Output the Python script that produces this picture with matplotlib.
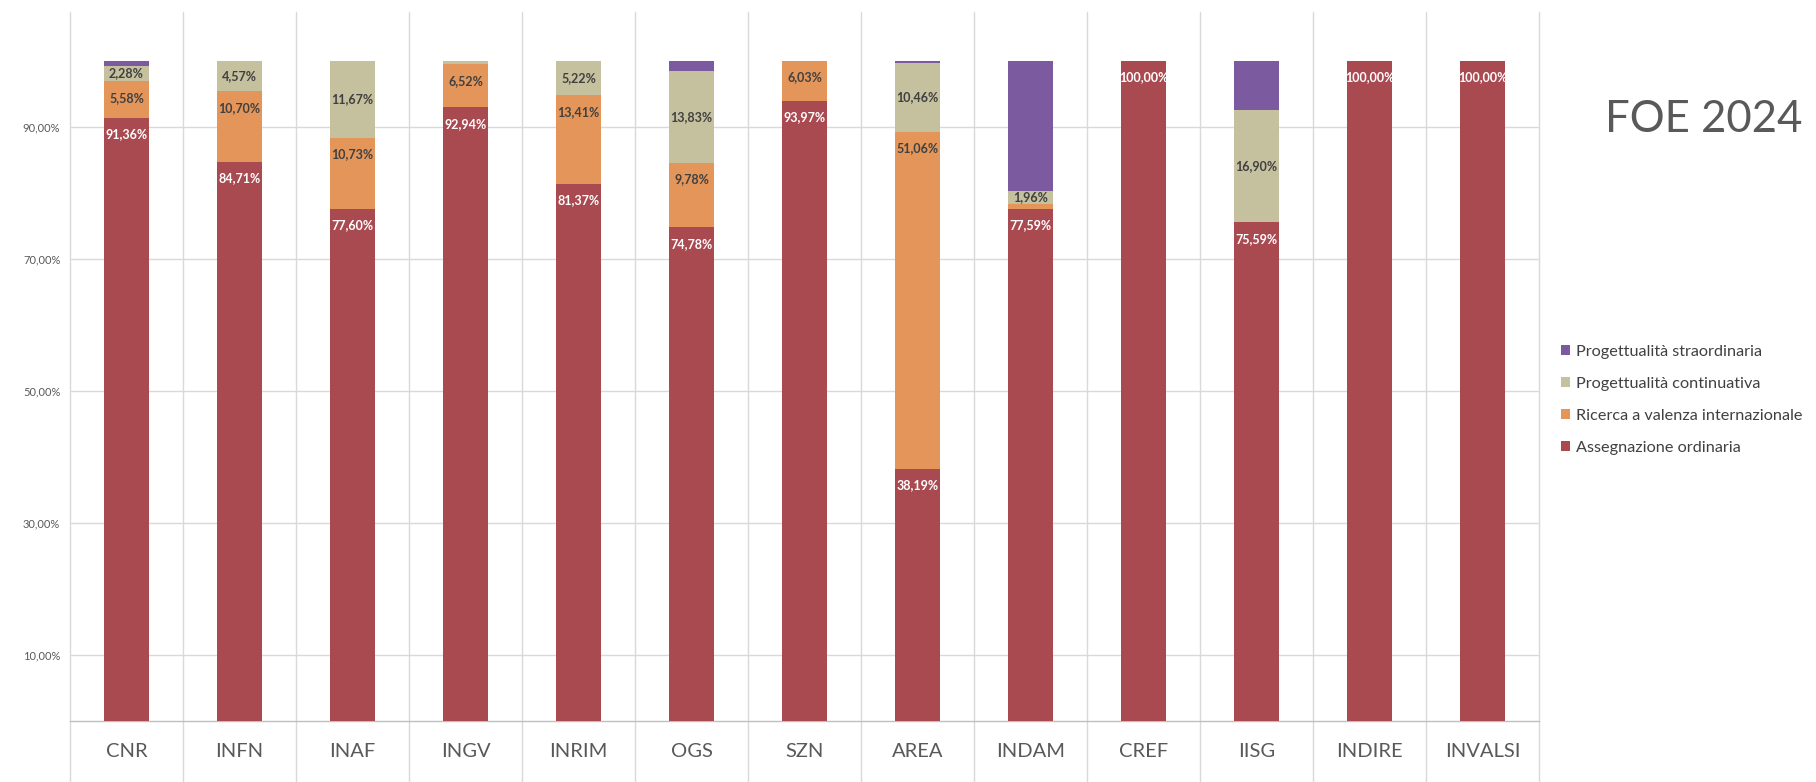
import matplotlib
matplotlib.use('Agg')
import matplotlib.pyplot as plt
import matplotlib.transforms as mtransforms
import numpy as np

categories = ['CNR', 'INFN', 'INAF', 'INGV', 'INRIM', 'OGS', 'SZN', 'AREA',
              'INDAM', 'CREF', 'IISG', 'INDIRE', 'INVALSI']
assegnazione = [91.36, 84.71, 77.60, 92.94, 81.37, 74.78, 93.97, 38.19, 77.59, 100.00, 75.59, 100.00, 100.00]
ricerca = [5.58, 10.70, 10.73, 6.52, 13.41, 9.78, 6.03, 51.06, 0.76, 0, 0, 0, 0]
continuativa = [2.28, 4.57, 11.67, 0.54, 5.22, 13.83, 0, 10.46, 1.96, 0, 16.90, 0, 0]
straordinaria = [0.78, 0.02, 0, 0, 0, 1.61, 0, 0.29, 19.69, 0, 7.51, 0, 0]
series_names = ['Assegnazione ordinaria', 'Ricerca a valenza internazionale',
                'Progettualità continuativa', 'Progettualità straordinaria']
yticks = [10, 30, 50, 70, 90]
title = 'FOE 2024'

colors = ['#A94A51', '#E4965A', '#C5C09E', '#7B5A9F']
label_colors = ['white', '#404040', '#404040', None]
label_mode = ['end', 'end', 'center', None]

plt.rcParams['font.family'] = ['Lato', 'DejaVu Sans']

fig = plt.figure(figsize=(18.16, 7.82), dpi=100)
ax = fig.add_axes([70 / 1816, 61 / 782, (1539 - 70) / 1816, (721 - 12) / 782])

x = np.arange(len(categories))
width = 0.40
series = [assegnazione, ricerca, continuativa, straordinaria]
bottom = np.zeros(len(categories))
handles = []
for k, (vals, name, col) in enumerate(zip(series, series_names, colors)):
    vals = np.array(vals, dtype=float)
    b = ax.bar(x, vals, width, bottom=bottom, color=col, label=name, zorder=3)
    handles.append(b)
    if label_mode[k] is not None:
        for i, v in enumerate(vals):
            if v < 1.9:
                continue
            txt = f"{v:.2f}".replace('.', ',') + '%'
            if label_mode[k] == 'end':
                ax.annotate(txt, xy=(i, bottom[i] + v), xytext=(0, -12),
                            textcoords='offset points', ha='center', va='center',
                            fontsize=9, fontweight='bold', color=label_colors[k], zorder=5)
            else:
                ax.text(i, bottom[i] + v / 2, txt, ha='center', va='center',
                        fontsize=9, fontweight='bold', color=label_colors[k], zorder=5)
    bottom += vals

ax.set_xlim(-0.5, len(categories) - 0.5)
ax.set_ylim(0, 107.4)
ax.set_yticks(yticks)
ax.set_yticklabels([f"{t:.2f}".replace('.', ',') + '%' for t in yticks],
                   fontsize=8, color='#595959')
ax.set_xticks(x)
ax.set_xticklabels(categories, fontsize=14.5, color='#595959')
ax.tick_params(axis='both', length=0)
ax.tick_params(axis='x', pad=16)
ax.tick_params(axis='y', pad=7)
ax.yaxis.grid(True, color='#D9D9D9', lw=1, zorder=0)
for s in ['top', 'right', 'left']:
    ax.spines[s].set_visible(False)
ax.spines['bottom'].set_color('#BFBFBF')
ax.spines['bottom'].set_linewidth(1)

trans = mtransforms.blended_transform_factory(ax.transData, ax.transAxes)
for xs in np.arange(-0.5, len(categories), 1.0):
    ax.plot([xs, xs], [-0.1, 1.0], transform=trans, clip_on=False,
            color='#D9D9D9', lw=1, zorder=1)

fig.text(1704 / 1816, 1 - 119 / 782, title, fontsize=31.5, color='#595959',
         ha='center', va='center')

leg = fig.legend(handles=handles[::-1], labels=series_names[::-1],
                 loc='upper left', bbox_to_anchor=(1561 / 1816, 1 - 345 / 782),
                 frameon=False, fontsize=11.7, handlelength=0.55, handleheight=0.55,
                 handletextpad=0.35, labelspacing=1.1, borderaxespad=0, borderpad=0)
for t in leg.get_texts():
    t.set_color('#404040')

fig.savefig('out.png', dpi=100)
